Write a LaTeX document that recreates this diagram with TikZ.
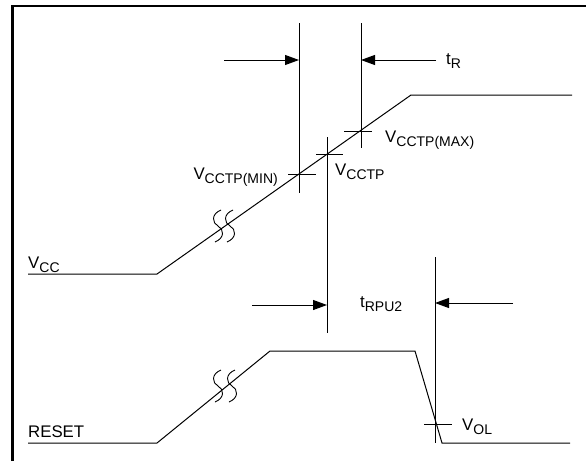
\documentclass[tikz,border=0pt]{standalone}
\usepackage{fontspec}
\setmainfont{Liberation Sans}
\usetikzlibrary{arrows.meta}
\newcommand{\lblsub}[2]{#1\raisebox{-4pt}{\fontsize{14}{15}\selectfont #2}}
\begin{document}
\begin{tikzpicture}[x=1pt,y=-1pt,
  wave/.style={line width=1pt},
  tickln/.style={line width=1pt},
  dimarrow/.style={line width=1pt,-{Triangle[length=14pt,width=10pt]}},
  lab/.style={inner sep=0pt,font=\fontsize{16.8}{18}\selectfont},
  brk/.pic={\draw[line width=0.9pt] (3,-16) .. controls (-7,-12) and (-6,-3) .. (0,0) .. controls (6,3) and (7,12) .. (-3,16);}]
\useasboundingbox (0,0) rectangle (586,461);
% frame
\draw[line width=2.5pt] (12.5,461) -- (12.5,6) -- (586,6);

% VCC waveform
\coordinate (v0) at (28,274);
\coordinate (v1) at (157,274);
\coordinate (v2) at (411,95);
\coordinate (v3) at (572,95);
\draw[wave] (v0) -- (v1) -- (v2) -- (v3);
\pic at (218,226) {brk};
\pic at (230,226) {brk};
\node[lab,anchor=base west] (lvcc) at (28,268) {\lblsub{V}{CC}};

% RESET waveform
\coordinate (r0) at (28,443);
\coordinate (r1) at (157,443);
\coordinate (r2) at (270,351);
\coordinate (r3) at (415,351);
\coordinate (r4) at (442,443);
\coordinate (r5) at (570,443);
\draw[wave] (r0) -- (r1) -- (r2) -- (r3) -- (r4) -- (r5);
\pic at (218,386) {brk};
\pic at (232,386) {brk};
\node[lab,anchor=base west] (lreset) at (28,437) {RESET};

% vertical reference lines
\coordinate (m1t) at (299,23);  \coordinate (m1b) at (299,193);
\coordinate (m2t) at (361,23);  \coordinate (m2b) at (361,148);
\coordinate (c1t) at (327,137); \coordinate (c1b) at (327,333);
\coordinate (o1t) at (435,257); \coordinate (o1b) at (435,443);
\draw[tickln] (m1t) -- (m1b);
\draw[tickln] (m2t) -- (m2b);
\draw[tickln] (c1t) -- (c1b);
\draw[tickln] (o1t) -- (o1b);

% horizontal ticks
\coordinate (h1a) at (288,174); \coordinate (h1b) at (316,174);
\coordinate (h2a) at (316,154); \coordinate (h2b) at (343,154);
\coordinate (h3a) at (344,131); \coordinate (h3b) at (372,131);
\coordinate (h4a) at (424,424); \coordinate (h4b) at (452,424);
\draw[tickln] (h1a) -- (h1b);
\draw[tickln] (h2a) -- (h2b);
\draw[tickln] (h3a) -- (h3b);
\draw[tickln] (h4a) -- (h4b);

% dimension arrows
\coordinate (a1s) at (224,60);  \coordinate (a1e) at (299,60);
\coordinate (a2s) at (436,60);  \coordinate (a2e) at (361,60);
\coordinate (a3s) at (252,305); \coordinate (a3e) at (327,305);
\coordinate (a4s) at (513,303); \coordinate (a4e) at (435,303);
\draw[dimarrow] (a1s) -- (a1e);
\draw[dimarrow] (a2s) -- (a2e);
\draw[dimarrow] (a3s) -- (a3e);
\draw[dimarrow] (a4s) -- (a4e);

% labels
\node[lab,anchor=base west] (ltr) at (446,64) {\lblsub{t}{R}};
\node[lab,anchor=base west] (lmax) at (385,142) {\lblsub{V}{CCTP(MAX)}};
\node[lab,anchor=base west] (lcctp) at (335,175) {\lblsub{V}{CCTP}};
\node[lab,anchor=base east] (lmin) at (278,179) {\lblsub{V}{CCTP(MIN)}};
\node[lab,anchor=base west] (lrpu) at (360,307) {\lblsub{t}{RPU2}};
\node[lab,anchor=base west] (lvol) at (462,430) {\lblsub{V}{OL}};
\end{tikzpicture}
\end{document}
